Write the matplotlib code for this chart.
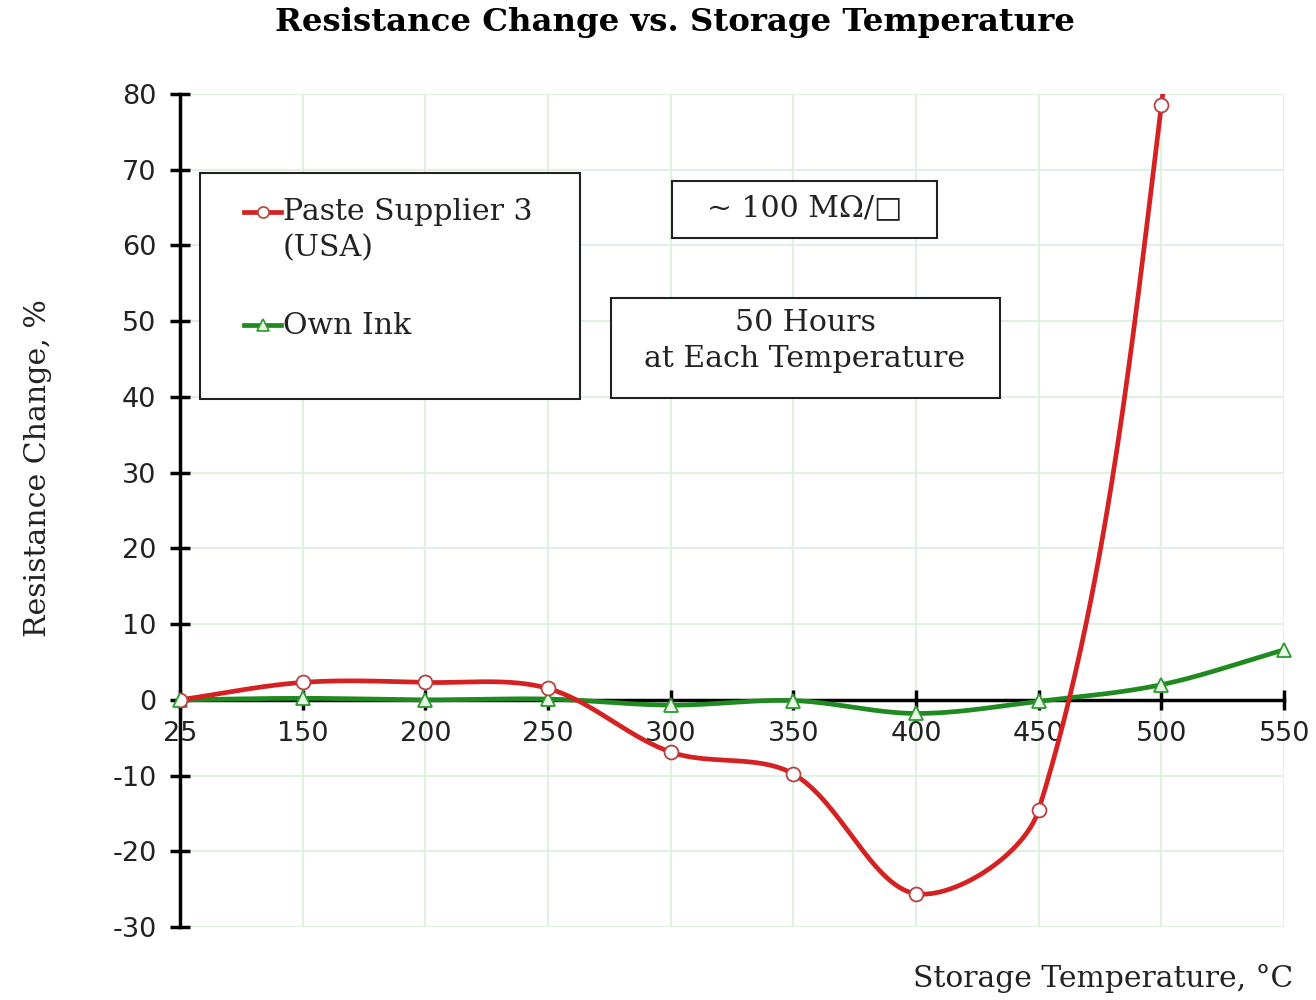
import numpy as np
import matplotlib
matplotlib.use('Agg')
import matplotlib.pyplot as plt
from matplotlib.patches import Rectangle
from matplotlib.lines import Line2D

plt.rcParams['axes.unicode_minus'] = False

# 数据
temps = ['25', '150', '200', '250', '300', '350', '400', '450', '500', '550']
# 550°C 的值远超 80%，曲线在图外（估计值）
paste_usa = [0.0, 2.3, 2.3, 1.5, -6.9, -9.8, -25.6, -14.5, 78.6, 250.0]
own_ink = [0.0, 0.2, 0.0, 0.1, -0.7, -0.1, -1.8, -0.2, 2.0, 6.6]
y_ticks = [-30, -20, -10, 0, 10, 20, 30, 40, 50, 60, 70, 80]

red = '#d42222'
green = '#1f8a1f'
grid_col = '#dcefdc'
serif = 'DejaVu Serif'


# Excel 风格的平滑线，在像素坐标中计算 Bezier 控制点
def smooth(ax, xs, ys, n=60):
    pts = ax.transData.transform(np.column_stack([xs, ys]).astype(float))
    p = np.vstack([pts[0], pts, pts[-1]])
    out = []
    for i in range(1, len(p) - 2):
        p0, p1, p2, p3 = p[i - 1], p[i], p[i + 1], p[i + 2]
        d01 = np.hypot(*(p1 - p0))
        d12 = np.hypot(*(p2 - p1))
        d23 = np.hypot(*(p3 - p2))
        c1 = p1 + (p2 - p0) * d12 / (d01 + d12) / 3
        c2 = p2 - (p3 - p1) * d12 / (d12 + d23) / 3
        t = np.linspace(0, 1, n)[:, None]
        seg = (1 - t) ** 3 * p1 + 3 * (1 - t) ** 2 * t * c1 + 3 * (1 - t) * t ** 2 * c2 + t ** 3 * p2
        out.append(seg if i == 1 else seg[1:])
    s = ax.transData.inverted().transform(np.vstack(out))
    return s[:, 0], s[:, 1]


fig = plt.figure(figsize=(13.16, 10), dpi=100)
ax = fig.add_axes([0.1368, 0.073, 0.839, 0.833])

ax.set_xlim(0, len(temps) - 1)
ax.set_ylim(-30, 80)
ax.set_xticks(range(len(temps)))
ax.set_xticklabels(temps)
ax.set_yticks(y_ticks)

xr = np.arange(len(paste_usa))
xg = np.arange(len(own_ink))

sx, sy = smooth(ax, xg, own_ink)
ax.plot(sx, sy, color=green, lw=3.4, zorder=3)
ax.plot(xg, own_ink, ls='none', marker='^', ms=10, mfc='#e6f7e6', mec='#2e9a2e', mew=1.3,
        zorder=4, clip_on=False)

sx, sy = smooth(ax, xr, paste_usa)
ax.plot(sx, sy, color=red, lw=3.4, zorder=5)
ax.plot(xr, paste_usa, ls='none', marker='o', ms=10, mfc='white', mec='#b84040', mew=1.3, zorder=6)

ax.grid(True, color=grid_col, lw=1.2)
ax.set_axisbelow(True)

for s in ['top', 'right']:
    ax.spines[s].set_visible(False)
ax.spines['bottom'].set_position(('data', 0))
ax.spines['bottom'].set_linewidth(2.5)
ax.spines['left'].set_linewidth(2.5)
ax.spines['bottom'].set_zorder(2)
ax.tick_params(axis='both', direction='inout', length=14, width=2.5, labelsize=19.5,
               labelcolor='#222222')
ax.tick_params(axis='x', pad=8)
ax.tick_params(axis='y', pad=10)

fig.text(0.513, 0.977, 'Resistance Change vs. Storage Temperature', ha='center', va='center',
         fontsize=23.3, fontweight='bold', family=serif)
fig.text(0.029, 0.532, 'Resistance Change, %', rotation=90, ha='center', va='center',
         fontsize=21.6, family=serif, color='#222222')
fig.text(0.983, 0.022, 'Storage Temperature, °C', ha='right', va='center',
         fontsize=21.4, family=serif, color='#222222')

# 图例框（手动绘制）
fig.patches.append(Rectangle((200 / 1316, 1 - 399 / 1000), 380 / 1316, 226 / 1000,
                             transform=fig.transFigure, fc='white', ec='#222222', lw=1.5, zorder=7))
legend_items = [('Paste Supplier 3\n(USA)', red, 'o', 'white', '#b84040', 212),
                ('Own Ink', green, '^', '#e6f7e6', '#2e9a2e', 325)]
for label, col, mk, mfc, mec, ypix in legend_items:
    yf = 1 - ypix / 1000
    fig.add_artist(Line2D([244 / 1316, 281 / 1316], [yf, yf], transform=fig.transFigure,
                          color=col, lw=3.4, zorder=8))
    fig.add_artist(Line2D([262.5 / 1316], [yf], transform=fig.transFigure, color=col, marker=mk,
                          ms=8, mfc=mfc, mec=mec, mew=1.2, zorder=9))
    fig.text(283 / 1316, yf + 0.0135, label, ha='left', va='top', fontsize=21.6, family=serif,
             linespacing=1.35, color='#222222', zorder=9)

# 注释框
fig.patches.append(Rectangle((672 / 1316, 1 - 238 / 1000), 265 / 1316, 57 / 1000,
                             transform=fig.transFigure, fc='white', ec='#222222', lw=1.5, zorder=7))
fig.text(805 / 1316, 1 - 208 / 1000, '~ 100 MΩ/□', ha='center', va='center', fontsize=21.6,
         family=[serif, 'DejaVu Sans'], color='#222222', zorder=8)
fig.patches.append(Rectangle((611 / 1316, 1 - 398 / 1000), 389 / 1316, 100 / 1000,
                             transform=fig.transFigure, fc='white', ec='#222222', lw=1.5, zorder=7))
fig.text(805 / 1316, 1 - 341 / 1000, '50 Hours\nat Each Temperature', ha='center', va='center',
         fontsize=21.6, family=serif, linespacing=1.35, color='#222222', zorder=8)

fig.savefig('out.png', dpi=100)
